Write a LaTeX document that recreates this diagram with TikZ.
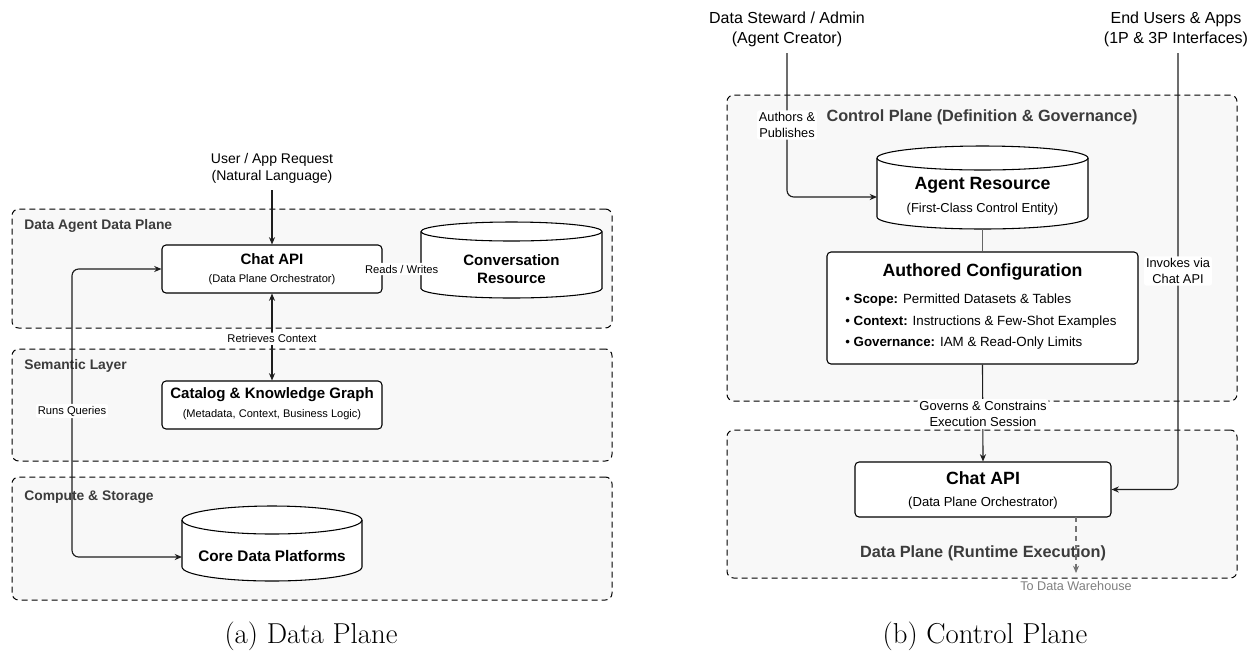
\documentclass[tikz,border=0pt]{standalone}
\usepackage{fontspec}
\newfontfamily\arial{Liberation Sans}
\usetikzlibrary{arrows.meta,fit}
\definecolor{grpfill}{RGB}{248,248,248}
\definecolor{grptxt}{RGB}{60,60,60}
\definecolor{lnk}{RGB}{30,30,30}
\tikzset{
  grp/.style={draw=black, line width=0.75pt, dash pattern=on 4.5pt off 3pt, fill=grpfill, rounded corners=5pt, inner sep=0pt},
  gtl/.style={font=\arial\bfseries\fontsize{10.4}{12}\selectfont, text=grptxt, inner sep=0pt},
  gtr/.style={font=\arial\bfseries\fontsize{12.2}{14}\selectfont, text=grptxt, inner sep=0pt},
  box/.style={draw=black, line width=0.8pt, fill=white, rounded corners=3pt, inner sep=0pt},
  cyl/.style={draw=black, line width=0.8pt, fill=white},
  bigt/.style={font=\arial\bfseries\fontsize{11.3}{13.5}\selectfont, inner sep=0pt, align=center},
  subt/.style={font=\arial\fontsize{8.3}{10}\selectfont, inner sep=0pt},
  conn/.style={line width=0.85pt, draw=lnk, rounded corners=5pt},
  tip/.style={-{Stealth[length=5.5pt,width=4.6pt]}},
  lbl/.style={font=\arial\fontsize{8.4}{10}\selectfont, fill=white, inner sep=1.5pt, align=center, rounded corners=2pt},
  lblr/.style={font=\arial\fontsize{9.6}{12}\selectfont, fill=white, inner sep=1.5pt, align=center, rounded corners=2pt},
  actor/.style={font=\arial\fontsize{12}{15}\selectfont, inner sep=0pt, align=center},
  captxt/.style={font=\rmfamily\fontsize{21.6}{26}\selectfont, inner sep=0pt}
}
\begin{document}
\begin{tikzpicture}[x=0.75pt,y=0.75pt]
\useasboundingbox (0,0) rectangle (1252,-651);

% ================= (a) Data Plane =================
\node[grp, fit={(12,-209)(612,-328)}] (gdata) {};
\node[grp, fit={(12,-349)(612,-461)}] (gsem) {};
\node[grp, fit={(12,-477)(612,-600)}] (gcomp) {};
\node[gtl, anchor=west] (tdata) at (24,-226) {Data Agent Data Plane};
\node[gtl, anchor=west] (tsem) at (24,-366) {Semantic Layer};
\node[gtl, anchor=west] (tcomp) at (24,-497) {Compute \& Storage};

\node[font=\arial\fontsize{10.5}{12.75}\selectfont, inner sep=0pt, align=center] (req) at (272,-168) {User / App Request\\(Natural Language)};
\coordinate (reqend) at (272,-190);

\node[box, fit={(162,-245)(382,-293)}] (chat1) {};
\node[bigt] (chat1t) at (272,-259) {Chat API};
\node[subt] (chat1s) at (272,-280) {(Data Plane Orchestrator)};

% Conversation Resource cylinder
\node[inner sep=0pt, fit={(421,-222)(602,-298)}] (conv) {};
\filldraw[cyl] (421,-231.5) -- (421,-288.5) arc[start angle=180,end angle=360,x radius=90.5,y radius=9.5] -- (602,-231.5) arc[start angle=0,end angle=180,x radius=90.5,y radius=9.5] -- cycle;
\draw[cyl, fill=none] (421,-231.5) arc[start angle=180,end angle=360,x radius=90.5,y radius=9.5];
\node[bigt] (convt) at (511.5,-269) {Conversation\\Resource};

\node[box, fit={(162,-381)(382,-429)}] (cat) {};
\node[bigt] (catt) at (272,-395) {Catalog \& Knowledge Graph};
\node[subt] (cats) at (272,-415) {(Metadata, Context, Business Logic)};

% Core Data Platforms cylinder
\node[inner sep=0pt, fit={(182,-506)(362,-581)}] (core) {};
\filldraw[cyl] (182,-520) -- (182,-567) arc[start angle=180,end angle=360,x radius=90,y radius=14] -- (362,-520) arc[start angle=0,end angle=180,x radius=90,y radius=14] -- cycle;
\draw[cyl, fill=none] (182,-520) arc[start angle=180,end angle=360,x radius=90,y radius=14];
\node[bigt, font=\arial\bfseries\fontsize{11.5}{13.5}\selectfont] (coret) at (272,-556) {Core Data Platforms};
\coordinate (corein) at (182,-557);

% connectors (a)
\draw[conn, tip] (reqend) -- (chat1.north);
\draw[conn] (chat1.east |- 0,-269) -- (conv.west |- 0,-269) node[lbl, midway] (rw) {Reads / Writes};
\draw[conn, {Stealth[length=5.5pt,width=4.6pt]}-{Stealth[length=5.5pt,width=4.6pt]}] (chat1.south) -- (cat.north) node[lbl, pos=0.52] (rc) {Retrieves Context};
\draw[conn, {Stealth[length=5.5pt,width=4.6pt]}-{Stealth[length=5.5pt,width=4.6pt]}] (chat1.west |- 0,-269) -- (72,-269) -- (72,-557) -- (corein);
\node[lbl] (rq) at (72,-411) {Runs Queries};

\node[captxt] (capa) at (311,-636) {(a) Data Plane};

% ================= (b) Control Plane =================
\node[grp, fit={(727,-95)(1237,-401)}] (gctrl) {};
\node[grp, fit={(727,-430)(1237,-578)}] (gdp) {};
\node[gtr] (tctrl) at (982,-117) {Control Plane (Definition \& Governance)};
\node[gtr] (tdp) at (983,-553) {Data Plane (Runtime Execution)};

\node[actor] (steward) at (787,-29) {Data Steward / Admin\\(Agent Creator)};
\node[actor] (users) at (1176,-29) {End Users \& Apps\\(1P \& 3P Interfaces)};
\coordinate (stewardend) at (787,-53);
\coordinate (usersend) at (1178,-53);

% Agent Resource cylinder
\node[inner sep=0pt, fit={(877,-146)(1088,-229)}] (agent) {};
\filldraw[cyl] (877,-158) -- (877,-217) arc[start angle=180,end angle=360,x radius=105.5,y radius=12] -- (1088,-158) arc[start angle=0,end angle=180,x radius=105.5,y radius=12] -- cycle;
\draw[cyl, fill=none] (877,-158) arc[start angle=180,end angle=360,x radius=105.5,y radius=12];
\node[bigt, font=\arial\bfseries\fontsize{13.3}{15}\selectfont] (agentt) at (982.5,-185) {Agent Resource};
\node[subt, font=\arial\fontsize{9.7}{12}\selectfont] (agents) at (982.5,-209) {(First-Class Control Entity)};
\coordinate (agentin) at (877,-197);

% Authored Configuration
\node[box, fit={(827,-252)(1138,-364)}] (config) {};
\node[bigt, font=\arial\bfseries\fontsize{13.3}{15}\selectfont] (configt) at (982.5,-272) {Authored Configuration};
\node[subt, font=\arial\fontsize{10}{12}\selectfont, anchor=west] (b1) at (845,-300) {• \textbf{Scope:} Permitted Datasets \& Tables};
\node[subt, font=\arial\fontsize{10}{12}\selectfont, anchor=west] (b2) at (845,-322) {• \textbf{Context:} Instructions \& Few-Shot Examples};
\node[subt, font=\arial\fontsize{10}{12}\selectfont, anchor=west] (b3) at (845,-343) {• \textbf{Governance:} IAM \& Read-Only Limits};

% Chat API (right)
\node[box, fit={(855,-462)(1111,-517)}] (chat2) {};
\node[bigt, font=\arial\bfseries\fontsize{13.3}{15}\selectfont] (chat2t) at (983,-478) {Chat API};
\node[subt, font=\arial\fontsize{9.8}{12}\selectfont] (chat2s) at (983,-503) {(Data Plane Orchestrator)};
\coordinate (dwout) at (1076,-517);
\coordinate (dwend) at (1076,-573);

% connectors (b)
\draw[conn, tip] (stewardend) -- (787,-197) -- (agentin);
\node[lblr] (ap) at (787,-125) {Authors \&\\Publishes};
\draw[line width=0.8pt, draw=black!60] (agent.south) -- (config.north);
\draw[conn, tip] (config.south) -- (chat2.north);
\node[lblr, font=\arial\fontsize{9.75}{12}\selectfont] (gc) at (983,-414) {Governs \& Constrains\\Execution Session};
\draw[conn, tip] (usersend) -- (1178,-489.5) -- (chat2.east);
\node[lblr] (iv) at (1178,-271) {Invokes via\\Chat API};
\draw[line width=0.8pt, draw=black!55, dash pattern=on 4pt off 3pt, -{Stealth[length=5.5pt,width=4.6pt]}] (dwout) -- (dwend);
\node[font=\arial\fontsize{9.5}{11}\selectfont, text=black!50, inner sep=0pt] (dw) at (1076,-586) {To Data Warehouse};

\node[captxt] (capb) at (985,-636) {(b) Control Plane};
\end{tikzpicture}
\end{document}
